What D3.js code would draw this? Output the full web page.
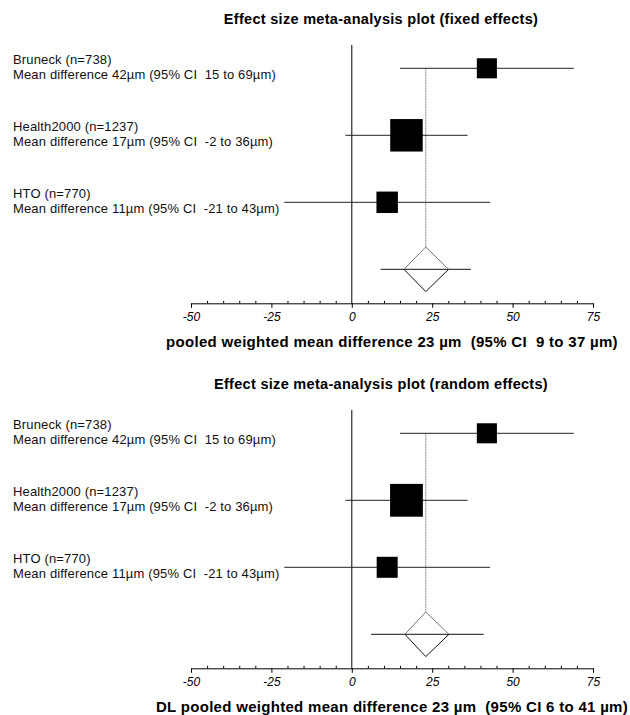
<!DOCTYPE html>
<html>
<head>
<meta charset="utf-8">
<script src="https://cdn.jsdelivr.net/npm/d3@7/dist/d3.min.js"></script>
<style>
  body { margin: 0; background: #fff; }
  svg { display: block; font-family: Arial, "Liberation Sans", sans-serif; }
  text { white-space: pre; }
</style>
</head>
<body>
<div id="chart"></div>
<script>
'use strict';

// Studies
const studies = ['Bruneck', 'Health2000', 'HTO'];
const studyN = [738, 1237, 770];
const meanDiff = [42, 17, 11];
const ciLow = [15, -2, -21];
const ciHigh = [69, 36, 43];
// relative box weights (%)
const weightsFixed = [21, 55, 24];
const weightsRandom = [21, 56, 23];

// Pooled results: [fixed, random]
const panelTitles = ['Effect size meta-analysis plot (fixed effects)',
                     'Effect size meta-analysis plot (random effects)'];
const pooledLabels = ['pooled weighted mean difference 23 µm  (95% CI  9 to 37 µm)',
                      'DL pooled weighted mean difference 23 µm  (95% CI 6 to 41 µm)'];
const pooledEst = [23, 23];
const pooledLow = [9, 6];
const pooledHigh = [37, 41];
const diamondLow = [16.2, 16.5];
const diamondHigh = [30.1, 30.2];

const majorTicks = [-50, -25, 0, 25, 50, 75];
const minorTicks = d3.range(-50, 76, 5).filter(v => majorTicks.indexOf(v) < 0);

const width = 630, height = 715;
const panelOffset = 365;

const svg = d3.select('#chart').append('svg')
  .attr('width', width)
  .attr('height', height);

// Scales
const x = d3.scaleLinear().domain([-50, 75]).range([191, 593]);
const y = d3.scalePoint().domain(studies.concat(['pooled'])).range([68.3, 269.3]);
const box = d3.scaleSqrt().domain([0, 100]).range([0, 43.8]);
const axisY = 303.3;

function drawPanel(i, weights) {
  const g = svg.append('g').attr('transform', 'translate(0,' + (i * panelOffset) + ')');

  // Title
  g.append('text')
   .attr('x', 381).attr('y', 23.5)
   .attr('text-anchor', 'middle')
   .attr('font-size', 14.5).attr('font-weight', 'bold')
   .attr('letter-spacing', 0.3)
   .text(panelTitles[i]);

  // Study labels
  studies.forEach((s, k) => {
    const t = g.append('text').attr('font-size', 13).attr('fill', '#111')
      .attr('letter-spacing', 0.15);
    t.append('tspan').attr('x', 13).attr('y', y(s) - 4)
     .text(s + ' (n=' + studyN[k] + ')');
    t.append('tspan').attr('x', 13).attr('y', y(s) + 10.5)
     .text('Mean difference ' + meanDiff[k] + 'µm (95% CI  ' + ciLow[k] + ' to ' + ciHigh[k] + 'µm)');
  });

  // Zero line
  g.append('line')
   .attr('x1', x(0)).attr('x2', x(0))
   .attr('y1', 45).attr('y2', axisY)
   .attr('stroke', '#000').attr('stroke-width', 1);

  // Pooled estimate reference (dotted)
  g.append('line')
   .attr('x1', x(pooledEst[i])).attr('x2', x(pooledEst[i]))
   .attr('y1', y('Bruneck')).attr('y2', y('pooled') - 22.3)
   .attr('stroke', '#555').attr('stroke-width', 1)
   .attr('stroke-dasharray', '1,1');

  // CI lines
  g.selectAll('.ci')
   .data(studies)
   .enter().append('line')
   .attr('class', 'ci')
   .attr('x1', (d, k) => x(ciLow[k]))
   .attr('x2', (d, k) => x(ciHigh[k]))
   .attr('y1', d => y(d)).attr('y2', d => y(d))
   .attr('stroke', '#222').attr('stroke-width', 1);

  // Boxes
  g.selectAll('.box')
   .data(studies)
   .enter().append('rect')
   .attr('class', 'box')
   .attr('x', (d, k) => x(meanDiff[k]) - box(weights[k]) / 2)
   .attr('y', (d, k) => y(d) - box(weights[k]) / 2)
   .attr('width', (d, k) => box(weights[k]))
   .attr('height', (d, k) => box(weights[k]))
   .attr('fill', '#000');

  // Pooled CI line and diamond
  const py = y('pooled');
  const dh = 22.3;
  g.append('line')
   .attr('x1', x(pooledLow[i])).attr('x2', x(pooledHigh[i]))
   .attr('y1', py).attr('y2', py)
   .attr('stroke', '#111').attr('stroke-width', 1);
  g.append('path')
   .attr('d', 'M' + x(diamondLow[i]) + ',' + py +
              'L' + x(pooledEst[i]) + ',' + (py - dh) +
              'L' + x(diamondHigh[i]) + ',' + py)
   .attr('fill', 'none').attr('stroke', '#777').attr('stroke-width', 1);
  g.append('path')
   .attr('d', 'M' + x(diamondLow[i]) + ',' + py +
              'L' + x(pooledEst[i]) + ',' + (py + dh) +
              'L' + x(diamondHigh[i]) + ',' + py)
   .attr('fill', 'none').attr('stroke', '#111').attr('stroke-width', 1);

  // Axis: major ticks down, minor ticks up
  const axis = g.append('g')
   .attr('transform', 'translate(0,' + axisY + ')')
   .call(d3.axisBottom(x).tickValues(majorTicks).tickSize(4.5).tickSizeOuter(0)
           .tickPadding(4.5).tickFormat(d => String(d)));
  axis.selectAll('text')
   .attr('font-size', 12).attr('font-style', 'italic')
   .attr('font-family', 'Arial, "Liberation Sans", sans-serif');
  axis.select('.domain').attr('stroke', '#000');

  g.append('g')
   .attr('transform', 'translate(0,' + axisY + ')')
   .call(d3.axisTop(x).tickValues(minorTicks).tickSize(2.5).tickFormat(''))
   .call(a => a.select('.domain').remove());

  // Pooled result label
  g.append('text')
   .attr('x', 392).attr('y', 346.5)
   .attr('text-anchor', 'middle')
   .attr('font-size', 15).attr('font-weight', 'bold')
   .attr('letter-spacing', 0.3)
   .text(pooledLabels[i]);
}

drawPanel(0, weightsFixed);
drawPanel(1, weightsRandom);
</script>
</body>
</html>
